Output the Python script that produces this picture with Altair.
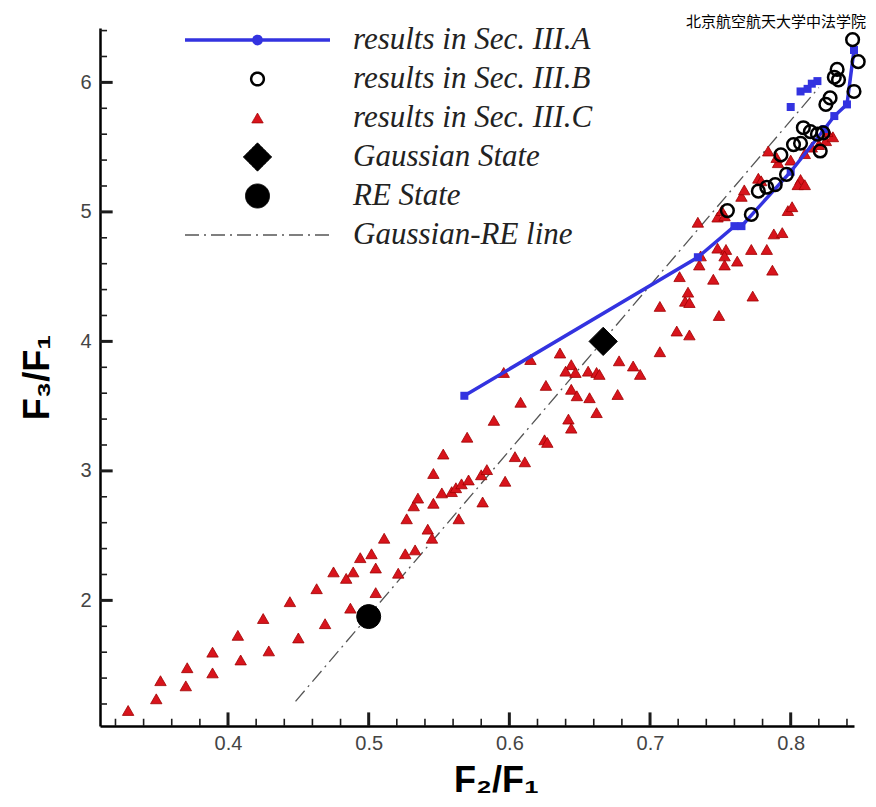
import altair as alt
import pandas as pd

S_A = "results in Sec. III.A"
S_B = "results in Sec. III.B"
S_C = "results in Sec. III.C"
S_G = "Gaussian State"
S_R = "RE State"
S_L = "Gaussian-RE line"
SERIES = [S_A, S_B, S_C, S_G, S_R, S_L]

# ---- data ----
a_line_x = [0.568, 0.734, 0.760, 0.765, 0.800, 0.824, 0.831, 0.840, 0.845]
a_line_y = [3.58, 4.65, 4.89, 4.89, 5.31, 5.64, 5.74, 5.83, 6.25]
a_extra_x = [0.800, 0.807, 0.812, 0.815, 0.819]
a_extra_y = [5.81, 5.93, 5.95, 5.99, 6.01]

b_x = [0.755, 0.772, 0.777, 0.783, 0.789, 0.797, 0.793, 0.802, 0.807, 0.809, 0.814,
       0.819, 0.823, 0.821, 0.825, 0.828, 0.831, 0.834, 0.833, 0.845, 0.848, 0.844]
b_y = [5.01, 4.98, 5.16, 5.19, 5.21, 5.29, 5.44, 5.52, 5.53, 5.65, 5.62,
       5.60, 5.61, 5.47, 5.83, 5.88, 6.04, 6.02, 6.10, 5.93, 6.16, 6.33]

c_x = [0.329, 0.349, 0.352, 0.370, 0.371, 0.389, 0.389, 0.409, 0.407, 0.429,
       0.425, 0.450, 0.444, 0.469, 0.463, 0.487, 0.475, 0.484, 0.489, 0.494,
       0.502, 0.505, 0.505, 0.511, 0.521, 0.526, 0.533, 0.527, 0.532, 0.535,
       0.546, 0.546, 0.542, 0.545,
       0.552, 0.559, 0.562, 0.566, 0.571, 0.580, 0.584, 0.597, 0.581, 0.564,
       0.553, 0.604, 0.611, 0.570, 0.625, 0.627,
       0.589, 0.608, 0.626, 0.596, 0.615, 0.636, 0.644, 0.640, 0.647, 0.656,
       0.662, 0.664, 0.678, 0.688, 0.693, 0.707, 0.719, 0.728, 0.644, 0.648,
       0.657, 0.677, 0.662, 0.642, 0.644, 0.707, 0.725, 0.727, 0.721, 0.745,
       0.749, 0.735, 0.736,
       0.748, 0.754, 0.753, 0.772, 0.783, 0.788, 0.794, 0.753, 0.762, 0.787,
       0.773, 0.728, 0.734, 0.748, 0.751, 0.753, 0.765, 0.767, 0.777, 0.779,
       0.784, 0.791, 0.798, 0.801, 0.807, 0.805, 0.810, 0.790, 0.800, 0.810,
       0.815, 0.820, 0.825, 0.830, 0.826]
c_y = [1.15, 1.24, 1.38, 1.34, 1.48, 1.44, 1.60, 1.54, 1.73, 1.61,
       1.86, 1.71, 1.99, 1.82, 2.09, 1.94, 2.22, 2.17, 2.22, 2.33,
       2.36, 2.25, 2.06, 2.48, 2.21, 2.36, 2.39, 2.63, 2.73, 2.79,
       2.75, 2.98, 2.55, 2.48,
       2.83, 2.84, 2.87, 2.90, 2.93, 2.97, 3.01, 2.92, 2.76, 2.63,
       3.13, 3.11, 3.07, 3.26, 3.24, 3.22,
       3.39, 3.53, 3.66, 3.76, 3.86, 3.91, 3.82, 3.77, 3.76, 3.77,
       3.76, 3.745, 3.85, 3.81, 3.745, 3.92, 4.08, 4.05, 3.63, 3.58,
       3.565, 3.59, 3.45, 3.40, 3.33, 4.27, 4.31, 4.38, 4.50, 4.48,
       4.20, 4.59, 4.66,
       4.72, 4.71, 4.66, 4.71, 4.71, 4.83, 4.84, 4.59, 4.62, 4.55,
       4.35, 4.30, 4.92, 4.96, 5.01, 4.97, 5.12, 5.17, 5.26, 5.24,
       5.47, 5.38, 5.01, 5.04, 5.25, 5.21, 5.21, 5.42, 5.40, 5.45,
       5.50, 5.52, 5.55, 5.58, 5.62]

gauss_x, gauss_y = [0.6667], [4.0]
re_x, re_y = [0.5], [1.875]
gr_x = [0.448, 0.820]
gr_y = [1.22, 5.96]

x_major = [0.4, 0.5, 0.6, 0.7, 0.8]
x_minor = [0.32, 0.34, 0.36, 0.38, 0.42, 0.44, 0.46, 0.48, 0.52, 0.54, 0.56, 0.58,
           0.62, 0.64, 0.66, 0.68, 0.72, 0.74, 0.76, 0.78, 0.82, 0.84]
y_major = [2, 3, 4, 5, 6]
y_minor = [1.2, 1.4, 1.6, 1.8, 2.2, 2.4, 2.6, 2.8, 3.2, 3.4, 3.6, 3.8,
           4.2, 4.4, 4.6, 4.8, 5.2, 5.4, 5.6, 5.8, 6.2, 6.4]
x_domain = [0.309, 0.845]
y_domain = [1.03, 6.42]

# ---- tables ----
a_line_df = pd.DataFrame({"x": a_line_x, "y": a_line_y, "series": S_A})
a_all_df = pd.DataFrame({"x": a_line_x + a_extra_x, "y": a_line_y + a_extra_y, "series": S_A})
b_df = pd.DataFrame({"x": b_x, "y": b_y, "series": S_B})
c_df = pd.DataFrame({"x": c_x, "y": c_y, "series": S_C})
st_df = pd.DataFrame({"x": gauss_x + re_x, "y": gauss_y + re_y, "series": [S_G, S_R]})
gr_df = pd.DataFrame({"x": gr_x, "y": gr_y, "series": S_L})

# ---- styles ----
BLUE = "#3333e0"
RED = "#d8141c"
TICK_COLOR = "#1c1c1c"
LINE_DOT = "M-1,0L1,0M0.05,0A0.05,0.05,0,1,1,-0.05,0A0.05,0.05,0,1,1,0.05,0Z"
LINE_ONLY = "M-1,0L1,0"
shape_range = [LINE_DOT, "circle", "triangle-up", "diamond", "circle", LINE_ONLY]
size_range = [21025, 160, 130, 800, 576, 21025]
fill_range = [BLUE, "transparent", RED, "black", "black", "transparent"]
stroke_range = [BLUE, "black", "#a00000", "black", "black", "#555555"]
sw_range = [3.5, 2.5, 0.8, 1, 1, 1.3]
dash_range = [[1, 0], [1, 0], [1, 0], [1, 0], [1, 0], [14, 5, 2, 5]]

LEG = alt.Legend(title=None, orient="none", legendX=83, legendY=-3)


def dom(rng, **kw):
    return alt.Scale(domain=SERIES, range=rng, **kw)


f_shape = alt.Shape("series:N", scale=dom(shape_range), legend=LEG)
f_size = alt.Size("series:N", scale=dom(size_range, type="ordinal"), legend=LEG)
f_fill = alt.Fill("series:N", scale=dom(fill_range), legend=LEG)
f_stroke = alt.Stroke("series:N", scale=dom(stroke_range), legend=LEG)
f_sw = alt.StrokeWidth("series:N", scale=dom(sw_range, type="ordinal"), legend=LEG)
f_dash = alt.StrokeDash("series:N", scale=dom(dash_range), legend=LEG)

XS = alt.Scale(domain=x_domain, nice=False, zero=False)
YS = alt.Scale(domain=y_domain, nice=False, zero=False)

TICK_FONT = dict(labelFont="Liberation Sans", labelFontSize=20, labelColor="#444")
TITLE_FONT = dict(titleFont="Liberation Sans", titleFontSize=36, titleFontWeight="bold",
                  titleColor="black")

AX_X_MAIN = alt.Axis(orient="bottom", values=x_major, format=".1f", grid=False,
                     domainColor="black", domainWidth=2.5, ticks=False,
                     labelPadding=7, **TICK_FONT,
                     title="F₂/F₁", titleX=396, titleY=65, titleBaseline="alphabetic",
                     **TITLE_FONT)
AX_Y_MAIN = alt.Axis(orient="left", values=y_major, format="d", grid=False,
                     domainColor="black", domainWidth=2.5, ticks=False,
                     labelPadding=9, **TICK_FONT,
                     title="F₃/F₁", titleX=-52, titleBaseline="alphabetic", **TITLE_FONT)


def X(axis):
    return alt.X("x:Q", scale=XS, axis=axis)


def Y(axis):
    return alt.Y("y:Q", scale=YS, axis=axis)


# inward tick marks drawn from the tick value lists (lengths in axis units)
MAJ_Y_LEN, MIN_Y_LEN = 0.105, 0.056     # ticks standing on the x axis
MAJ_X_LEN, MIN_X_LEN = 0.0090, 0.0050   # ticks standing on the y axis


def x_ticks(values, length, width):
    return alt.Chart(pd.DataFrame({"v": values})).mark_rule(
        color=TICK_COLOR, strokeWidth=width, opacity=1
    ).encode(
        x=alt.X("v:Q", scale=XS, axis=None),
        y=alt.YDatum(datum=y_domain[0], scale=YS, axis=None),
        y2=alt.Y2Datum(datum=y_domain[0] + length),
    )


def y_ticks(values, length, width):
    return alt.Chart(pd.DataFrame({"v": values})).mark_rule(
        color=TICK_COLOR, strokeWidth=width, opacity=1
    ).encode(
        y=alt.Y("v:Q", scale=YS, axis=None),
        x=alt.XDatum(datum=x_domain[0], scale=XS, axis=None),
        x2=alt.X2Datum(datum=x_domain[0] + length),
    )


gr_layer = alt.Chart(gr_df).mark_line().encode(
    x=X(None), y=Y(None), stroke=f_stroke, strokeDash=f_dash, strokeWidth=f_sw)

tri_layer = alt.Chart(c_df).mark_point(filled=True, opacity=1).encode(
    x=X(AX_X_MAIN), y=Y(AX_Y_MAIN), shape=f_shape, size=f_size, fill=f_fill,
    stroke=f_stroke, strokeWidth=f_sw)

a_line_layer = alt.Chart(a_line_df).mark_line().encode(
    x=X(None), y=Y(None), stroke=f_stroke, strokeWidth=f_sw)

a_sq_layer = alt.Chart(a_all_df).mark_point(shape="square", filled=True, size=64,
                                            opacity=1, strokeWidth=0).encode(
    x=X(None), y=Y(None), fill=f_fill)

b_layer = alt.Chart(b_df).mark_point(opacity=1).encode(
    x=X(None), y=Y(None), shape=f_shape, size=f_size, fill=f_fill,
    stroke=f_stroke, strokeWidth=f_sw)

st_layer = alt.Chart(st_df).mark_point(opacity=1).encode(
    x=X(None), y=Y(None), shape=f_shape, size=f_size, fill=f_fill,
    stroke=f_stroke, strokeWidth=f_sw)

chart = alt.layer(
    gr_layer, tri_layer, a_line_layer, a_sq_layer, b_layer, st_layer,
    x_ticks(x_major, MAJ_Y_LEN, 3), x_ticks(x_minor, MIN_Y_LEN, 1.6),
    y_ticks(y_major, MAJ_X_LEN, 3), y_ticks(y_minor, MIN_X_LEN, 1.6),
).resolve_axis(
    x="independent", y="independent"
).properties(
    width=754, height=698,
    padding={"left": 92, "top": 20, "right": 14, "bottom": 73},
    autosize=alt.AutoSizeParams(type="none"),
    title=alt.TitleParams(text="北京航空航天大学中法学院", anchor="end", frame="group",
                          font="Noto Sans CJK SC", fontSize=15, fontWeight="normal",
                          color="black", offset=0, dx=12, dy=5),
).configure_view(
    strokeWidth=0
).configure_legend(
    padding=0, labelFont="Liberation Serif", labelFontStyle="italic", labelFontSize=31,
    labelColor="#222", labelOffset=21, rowPadding=8, clipHeight=30, labelLimit=500,
    symbolFillColor="transparent", symbolStrokeColor="black"
)

chart.save("out.html", embed_options={"renderer": "svg", "actions": False})
